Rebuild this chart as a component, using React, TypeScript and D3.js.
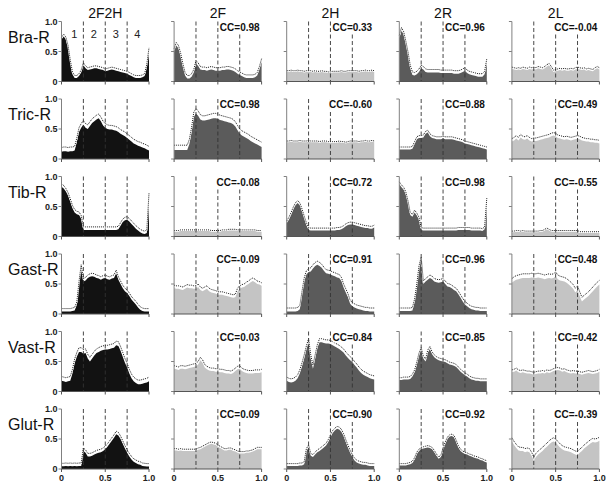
import React from "react";
import * as d3 from "d3";

const MUSCLES = ["Bra-R", "Tric-R", "Tib-R", "Gast-R", "Vast-R", "Glut-R"];
const CONDITIONS = ["2F2H", "2F", "2H", "2R", "2L"];
const X_TICKS = [0, 0.5, 1.0];
const X_TICK_LABELS = ["0", "0.5", "1.0"];
const Y_TICKS = [0, 0.5, 1.0];
const Y_TICK_LABELS = ["0", "0.5", "1.0"];
const PHASE_BOUNDS = [0.25, 0.5, 0.75];
const PHASE_LABELS = ["1", "2", "3", "4"];
const PHASE_LABEL_POS = [0.145, 0.37, 0.62, 0.865];

// Each series sampled at 41 evenly spaced points of the normalised cycle (0..1)
const braR_2F2H = [0.70, 0.75, 0.70, 0.56, 0.32, 0.12, 0.06, 0.06, 0.09, 0.15, 0.27, 0.22, 0.19, 0.20, 0.21, 0.22, 0.22, 0.21, 0.20, 0.19, 0.17, 0.18, 0.19, 0.20, 0.19, 0.18, 0.17, 0.16, 0.15, 0.14, 0.13, 0.11, 0.09, 0.07, 0.06, 0.06, 0.06, 0.07, 0.09, 0.25, 0.52];
const braR_2F = [0.50, 0.60, 0.55, 0.42, 0.25, 0.10, 0.05, 0.05, 0.08, 0.15, 0.30, 0.26, 0.20, 0.19, 0.19, 0.18, 0.19, 0.20, 0.19, 0.18, 0.18, 0.18, 0.19, 0.19, 0.20, 0.20, 0.19, 0.18, 0.16, 0.13, 0.11, 0.09, 0.07, 0.06, 0.06, 0.06, 0.06, 0.07, 0.10, 0.20, 0.33];
const braR_2H = [0.16, 0.16, 0.17, 0.16, 0.16, 0.17, 0.16, 0.16, 0.15, 0.16, 0.16, 0.16, 0.15, 0.16, 0.15, 0.15, 0.16, 0.15, 0.15, 0.14, 0.14, 0.15, 0.15, 0.15, 0.15, 0.16, 0.15, 0.15, 0.16, 0.16, 0.16, 0.16, 0.16, 0.15, 0.16, 0.16, 0.17, 0.16, 0.16, 0.17, 0.16];
const braR_2R = [0.72, 0.85, 0.78, 0.62, 0.44, 0.22, 0.11, 0.10, 0.12, 0.16, 0.22, 0.20, 0.16, 0.15, 0.15, 0.15, 0.15, 0.15, 0.15, 0.14, 0.14, 0.14, 0.14, 0.14, 0.14, 0.13, 0.13, 0.13, 0.14, 0.16, 0.18, 0.14, 0.12, 0.11, 0.10, 0.09, 0.08, 0.08, 0.08, 0.12, 0.33];
const braR_2L = [0.21, 0.20, 0.19, 0.20, 0.19, 0.21, 0.20, 0.19, 0.21, 0.20, 0.21, 0.20, 0.22, 0.21, 0.20, 0.22, 0.25, 0.27, 0.22, 0.16, 0.17, 0.18, 0.19, 0.18, 0.19, 0.18, 0.18, 0.19, 0.18, 0.20, 0.21, 0.20, 0.19, 0.20, 0.18, 0.19, 0.18, 0.17, 0.20, 0.22, 0.20];

const tricR_2F2H = [0.12, 0.13, 0.13, 0.12, 0.13, 0.13, 0.14, 0.28, 0.45, 0.52, 0.57, 0.52, 0.50, 0.55, 0.60, 0.63, 0.66, 0.68, 0.63, 0.56, 0.52, 0.50, 0.49, 0.49, 0.48, 0.47, 0.45, 0.42, 0.40, 0.38, 0.35, 0.32, 0.29, 0.26, 0.24, 0.22, 0.21, 0.19, 0.18, 0.16, 0.14];
const tricR_2F = [0.15, 0.15, 0.15, 0.15, 0.15, 0.15, 0.15, 0.25, 0.45, 0.70, 0.76, 0.72, 0.66, 0.64, 0.64, 0.65, 0.66, 0.67, 0.68, 0.68, 0.67, 0.65, 0.64, 0.63, 0.62, 0.61, 0.60, 0.58, 0.54, 0.48, 0.42, 0.39, 0.37, 0.35, 0.33, 0.30, 0.28, 0.26, 0.24, 0.22, 0.20];
const tricR_2H = [0.28, 0.28, 0.29, 0.28, 0.28, 0.28, 0.29, 0.28, 0.28, 0.28, 0.29, 0.28, 0.28, 0.28, 0.28, 0.27, 0.28, 0.28, 0.28, 0.27, 0.27, 0.27, 0.27, 0.27, 0.28, 0.27, 0.27, 0.26, 0.27, 0.28, 0.28, 0.28, 0.28, 0.27, 0.28, 0.28, 0.29, 0.28, 0.28, 0.29, 0.28];
const tricR_2R = [0.16, 0.16, 0.16, 0.16, 0.16, 0.16, 0.17, 0.25, 0.33, 0.35, 0.35, 0.36, 0.42, 0.44, 0.38, 0.35, 0.34, 0.33, 0.33, 0.33, 0.34, 0.33, 0.33, 0.33, 0.33, 0.32, 0.31, 0.30, 0.29, 0.28, 0.26, 0.25, 0.24, 0.23, 0.22, 0.21, 0.20, 0.19, 0.18, 0.17, 0.16];
const tricR_2L = [0.29, 0.31, 0.34, 0.31, 0.36, 0.33, 0.32, 0.34, 0.31, 0.29, 0.30, 0.30, 0.31, 0.32, 0.33, 0.34, 0.35, 0.36, 0.38, 0.39, 0.38, 0.35, 0.34, 0.33, 0.32, 0.33, 0.32, 0.31, 0.32, 0.33, 0.34, 0.33, 0.31, 0.30, 0.29, 0.29, 0.28, 0.28, 0.27, 0.27, 0.26];

const tibR_2F2H = [0.83, 0.80, 0.75, 0.68, 0.58, 0.47, 0.40, 0.37, 0.36, 0.30, 0.11, 0.11, 0.11, 0.11, 0.11, 0.11, 0.11, 0.11, 0.11, 0.11, 0.11, 0.11, 0.11, 0.11, 0.11, 0.11, 0.12, 0.18, 0.24, 0.27, 0.28, 0.25, 0.21, 0.17, 0.13, 0.10, 0.07, 0.05, 0.04, 0.06, 0.67];
const tibR_2F = [0.08, 0.08, 0.08, 0.09, 0.09, 0.09, 0.09, 0.09, 0.09, 0.09, 0.09, 0.09, 0.09, 0.09, 0.09, 0.09, 0.09, 0.08, 0.08, 0.08, 0.08, 0.08, 0.09, 0.09, 0.09, 0.10, 0.10, 0.10, 0.10, 0.09, 0.09, 0.09, 0.09, 0.09, 0.09, 0.09, 0.09, 0.09, 0.08, 0.08, 0.08];
const tibR_2H = [0.22, 0.28, 0.36, 0.45, 0.52, 0.56, 0.52, 0.42, 0.30, 0.19, 0.11, 0.10, 0.10, 0.10, 0.10, 0.10, 0.10, 0.10, 0.10, 0.10, 0.10, 0.10, 0.10, 0.11, 0.11, 0.12, 0.14, 0.17, 0.19, 0.20, 0.20, 0.19, 0.18, 0.17, 0.16, 0.15, 0.14, 0.14, 0.13, 0.13, 0.15];
const tibR_2R = [0.87, 0.82, 0.78, 0.70, 0.55, 0.36, 0.33, 0.40, 0.35, 0.28, 0.11, 0.10, 0.10, 0.10, 0.10, 0.10, 0.10, 0.10, 0.10, 0.10, 0.10, 0.10, 0.10, 0.10, 0.10, 0.10, 0.10, 0.11, 0.11, 0.11, 0.11, 0.11, 0.11, 0.10, 0.10, 0.10, 0.10, 0.10, 0.09, 0.12, 0.60];
const tibR_2L = [0.07, 0.07, 0.08, 0.08, 0.07, 0.08, 0.07, 0.07, 0.07, 0.07, 0.07, 0.07, 0.07, 0.08, 0.08, 0.10, 0.12, 0.10, 0.08, 0.08, 0.08, 0.08, 0.08, 0.08, 0.08, 0.08, 0.08, 0.08, 0.08, 0.08, 0.08, 0.06, 0.06, 0.06, 0.06, 0.06, 0.06, 0.06, 0.06, 0.06, 0.06];

const gastR_2F2H = [0.04, 0.04, 0.04, 0.04, 0.04, 0.05, 0.06, 0.15, 0.49, 0.77, 0.54, 0.56, 0.60, 0.62, 0.63, 0.62, 0.60, 0.59, 0.57, 0.59, 0.60, 0.58, 0.57, 0.59, 0.60, 0.68, 0.57, 0.50, 0.43, 0.38, 0.35, 0.30, 0.24, 0.20, 0.16, 0.11, 0.07, 0.05, 0.04, 0.04, 0.04];
const gastR_2F = [0.43, 0.42, 0.42, 0.41, 0.40, 0.42, 0.44, 0.43, 0.43, 0.42, 0.42, 0.45, 0.40, 0.38, 0.40, 0.42, 0.38, 0.36, 0.35, 0.34, 0.32, 0.32, 0.32, 0.31, 0.30, 0.29, 0.28, 0.27, 0.28, 0.38, 0.42, 0.44, 0.45, 0.48, 0.50, 0.53, 0.55, 0.53, 0.50, 0.49, 0.47];
const gastR_2H = [0.04, 0.04, 0.04, 0.04, 0.04, 0.05, 0.08, 0.32, 0.54, 0.66, 0.70, 0.71, 0.76, 0.80, 0.82, 0.80, 0.77, 0.72, 0.68, 0.67, 0.66, 0.64, 0.63, 0.61, 0.60, 0.55, 0.44, 0.36, 0.28, 0.17, 0.13, 0.11, 0.09, 0.08, 0.07, 0.06, 0.05, 0.05, 0.04, 0.04, 0.04];
const gastR_2R = [0.05, 0.05, 0.05, 0.05, 0.05, 0.05, 0.06, 0.20, 0.45, 0.75, 0.90, 0.50, 0.54, 0.57, 0.60, 0.58, 0.54, 0.53, 0.52, 0.53, 0.54, 0.50, 0.46, 0.45, 0.43, 0.40, 0.38, 0.33, 0.27, 0.21, 0.16, 0.13, 0.10, 0.08, 0.07, 0.06, 0.06, 0.05, 0.05, 0.05, 0.05];
const gastR_2L = [0.52, 0.55, 0.57, 0.58, 0.59, 0.60, 0.60, 0.60, 0.60, 0.61, 0.60, 0.60, 0.61, 0.60, 0.59, 0.58, 0.59, 0.60, 0.59, 0.60, 0.63, 0.58, 0.56, 0.55, 0.54, 0.52, 0.49, 0.46, 0.42, 0.36, 0.40, 0.30, 0.21, 0.24, 0.27, 0.30, 0.34, 0.38, 0.42, 0.46, 0.49];

const vastR_2F2H = [0.18, 0.17, 0.16, 0.17, 0.18, 0.30, 0.47, 0.58, 0.66, 0.66, 0.63, 0.64, 0.55, 0.50, 0.55, 0.60, 0.64, 0.66, 0.68, 0.69, 0.70, 0.70, 0.71, 0.72, 0.73, 0.77, 0.76, 0.68, 0.58, 0.48, 0.40, 0.30, 0.22, 0.17, 0.14, 0.12, 0.12, 0.13, 0.14, 0.15, 0.17];
const vastR_2F = [0.38, 0.37, 0.36, 0.38, 0.38, 0.37, 0.38, 0.39, 0.40, 0.41, 0.42, 0.45, 0.52, 0.48, 0.40, 0.37, 0.35, 0.34, 0.34, 0.33, 0.33, 0.32, 0.32, 0.31, 0.30, 0.30, 0.29, 0.31, 0.34, 0.37, 0.38, 0.34, 0.32, 0.31, 0.30, 0.30, 0.30, 0.31, 0.31, 0.31, 0.32];
const vastR_2H = [0.18, 0.16, 0.15, 0.16, 0.18, 0.22, 0.30, 0.42, 0.55, 0.70, 0.82, 0.55, 0.38, 0.55, 0.72, 0.82, 0.82, 0.81, 0.80, 0.80, 0.79, 0.77, 0.75, 0.73, 0.71, 0.68, 0.65, 0.60, 0.56, 0.52, 0.49, 0.44, 0.40, 0.35, 0.31, 0.28, 0.26, 0.24, 0.22, 0.21, 0.20];
const vastR_2R = [0.19, 0.19, 0.20, 0.20, 0.20, 0.21, 0.25, 0.32, 0.45, 0.60, 0.69, 0.55, 0.50, 0.65, 0.71, 0.62, 0.57, 0.54, 0.52, 0.51, 0.50, 0.49, 0.47, 0.45, 0.44, 0.43, 0.41, 0.37, 0.33, 0.30, 0.27, 0.25, 0.22, 0.20, 0.19, 0.18, 0.18, 0.17, 0.17, 0.17, 0.17];
const vastR_2L = [0.32, 0.33, 0.35, 0.32, 0.31, 0.32, 0.31, 0.30, 0.30, 0.29, 0.28, 0.29, 0.30, 0.30, 0.31, 0.30, 0.32, 0.31, 0.32, 0.34, 0.35, 0.36, 0.35, 0.33, 0.34, 0.32, 0.31, 0.30, 0.31, 0.30, 0.30, 0.29, 0.28, 0.29, 0.30, 0.31, 0.30, 0.29, 0.30, 0.31, 0.33];

const glutR_2F2H = [0.045, 0.045, 0.05, 0.045, 0.05, 0.045, 0.05, 0.045, 0.05, 0.05, 0.30, 0.27, 0.21, 0.21, 0.22, 0.24, 0.26, 0.27, 0.28, 0.30, 0.33, 0.37, 0.42, 0.47, 0.52, 0.58, 0.56, 0.50, 0.42, 0.34, 0.27, 0.21, 0.16, 0.12, 0.10, 0.08, 0.07, 0.05, 0.045, 0.04, 0.04];
const glutR_2F = [0.31, 0.31, 0.30, 0.31, 0.30, 0.30, 0.30, 0.30, 0.30, 0.30, 0.30, 0.32, 0.33, 0.35, 0.37, 0.39, 0.41, 0.42, 0.41, 0.40, 0.37, 0.35, 0.33, 0.31, 0.31, 0.32, 0.32, 0.30, 0.29, 0.27, 0.26, 0.26, 0.26, 0.27, 0.27, 0.28, 0.29, 0.31, 0.33, 0.33, 0.33];
const glutR_2H = [0.05, 0.05, 0.05, 0.05, 0.05, 0.05, 0.06, 0.06, 0.08, 0.30, 0.36, 0.22, 0.20, 0.24, 0.28, 0.30, 0.33, 0.36, 0.39, 0.45, 0.53, 0.60, 0.64, 0.67, 0.66, 0.62, 0.55, 0.45, 0.36, 0.27, 0.20, 0.14, 0.11, 0.09, 0.08, 0.07, 0.07, 0.06, 0.05, 0.05, 0.05];
const glutR_2R = [0.06, 0.06, 0.06, 0.06, 0.07, 0.08, 0.10, 0.16, 0.25, 0.30, 0.33, 0.34, 0.35, 0.36, 0.35, 0.33, 0.28, 0.22, 0.17, 0.20, 0.32, 0.42, 0.50, 0.54, 0.55, 0.53, 0.45, 0.36, 0.30, 0.27, 0.25, 0.24, 0.22, 0.21, 0.19, 0.18, 0.17, 0.15, 0.14, 0.12, 0.11];
const glutR_2L = [0.46, 0.40, 0.35, 0.31, 0.30, 0.30, 0.28, 0.29, 0.28, 0.22, 0.14, 0.20, 0.24, 0.27, 0.30, 0.34, 0.37, 0.41, 0.44, 0.46, 0.44, 0.40, 0.36, 0.33, 0.31, 0.30, 0.29, 0.28, 0.26, 0.24, 0.23, 0.27, 0.30, 0.34, 0.37, 0.40, 0.43, 0.45, 0.44, 0.45, 0.47];

// standard deviation offset (upper dotted line) per panel
const SD_BRA = [0.04, 0.05, 0.02, 0.05, 0.03];
const SD_TRIC = [0.07, 0.08, 0.02, 0.04, 0.05];
const SD_TIB = [0.05, 0.02, 0.04, 0.04, 0.02];
const SD_GAST = [0.05, 0.05, 0.06, 0.05, 0.07];
const SD_VAST = [0.07, 0.05, 0.06, 0.04, 0.04];
const SD_GLUT = [0.05, 0.03, 0.04, 0.03, 0.06];

// correlation coefficients vs 2F2H
const CC_BRA = [null, 0.98, 0.33, 0.96, -0.04];
const CC_TRIC = [null, 0.98, -0.6, 0.88, 0.49];
const CC_TIB = [null, -0.08, 0.72, 0.98, -0.55];
const CC_GAST = [null, -0.09, 0.91, 0.96, 0.48];
const CC_VAST = [null, 0.03, 0.84, 0.85, 0.42];
const CC_GLUT = [null, 0.09, 0.9, 0.92, -0.39];

const SERIES = [
  [braR_2F2H, braR_2F, braR_2H, braR_2R, braR_2L],
  [tricR_2F2H, tricR_2F, tricR_2H, tricR_2R, tricR_2L],
  [tibR_2F2H, tibR_2F, tibR_2H, tibR_2R, tibR_2L],
  [gastR_2F2H, gastR_2F, gastR_2H, gastR_2R, gastR_2L],
  [vastR_2F2H, vastR_2F, vastR_2H, vastR_2R, vastR_2L],
  [glutR_2F2H, glutR_2F, glutR_2H, glutR_2R, glutR_2L],
];
const SD = [SD_BRA, SD_TRIC, SD_TIB, SD_GAST, SD_VAST, SD_GLUT];
const CC = [CC_BRA, CC_TRIC, CC_TIB, CC_GAST, CC_VAST, CC_GLUT];

const FONT = "'Liberation Sans', Arial, Helvetica, sans-serif";
const W = 612;
const H = 485;
const COL_X0 = 61.5;
const COL_STEP = 112.6;
const PANEL_W = 87.5;
const ROW_BOTTOM0 = 81.5;
const ROW_STEP = 77.5;
const PANEL_H = 60;
const CC_FONT = 10;

const BOLD_W: Record<string, number> = { C: 0.722, "=": 0.584, "-": 0.333, ".": 0.278 };
function boldTextWidth(s: string, size: number) {
  let w = 0;
  for (const ch of s) w += BOLD_W[ch] ?? 0.556;
  return w * size;
}

function fillFor(c: number, cc: number | null) {
  if (c === 0) return "#121212";
  return cc !== null && cc >= 0.5 ? "#5b5b5b" : "#c4c4c4";
}

function Panel({ r, c }: { r: number; c: number }) {
  const vals = SERIES[r][c];
  const n = vals.length;
  const x0 = COL_X0 + c * COL_STEP;
  const bottom = ROW_BOTTOM0 + r * ROW_STEP;
  const x = d3.scaleLinear().domain([0, 1]).range([x0, x0 + PANEL_W]);
  const y = d3.scaleLinear().domain([0, 1]).range([bottom, bottom - PANEL_H]);
  const t = (i: number) => i / (n - 1);
  const area = d3
    .area<number>()
    .x((_, i) => x(t(i)))
    .y0(y(0))
    .y1((d) => y(d));
  const sd = SD[r][c];
  const line = d3
    .line<number>()
    .x((_, i) => x(t(i)))
    .y((d) => y(d + sd));
  const cc = CC[r][c];
  const ccText = cc !== null ? "CC=" + cc.toFixed(2) : "";
  const ccW = boldTextWidth(ccText, CC_FONT);
  const isLastRow = r === MUSCLES.length - 1;
  return (
    <g>
      <path d={area(vals) || ""} fill={fillFor(c, cc)} stroke="none" />
      <path d={line(vals) || ""} fill="none" stroke="#ffffff" strokeWidth={1.6} />
      <path d={line(vals) || ""} fill="none" stroke="#000" strokeWidth={0.9} strokeDasharray="1,1" />
      {PHASE_BOUNDS.map((b) => (
        <line
          key={b}
          x1={x(b)}
          x2={x(b)}
          y1={y(1)}
          y2={y(0)}
          stroke="#333"
          strokeWidth={0.9}
          strokeDasharray="4,2.5"
        />
      ))}
      {/* y axis */}
      <line x1={x(0)} x2={x(0)} y1={y(0)} y2={y(1)} stroke="#808080" strokeWidth={1} />
      {Y_TICKS.map((v) => (
        <line key={v} x1={x(0) - 3} x2={x(0)} y1={y(v)} y2={y(v)} stroke="#808080" strokeWidth={1} />
      ))}
      {c === 0 &&
        Y_TICKS.map((v, i) => (
          <text
            key={v}
            x={x(0) - 4}
            y={y(v) + 3.2}
            textAnchor="end"
            fontSize={9}
            fontWeight="bold"
            fontFamily={FONT}
            fill="#222"
          >
            {Y_TICK_LABELS[i]}
          </text>
        ))}
      {/* x axis */}
      <line x1={x(0)} x2={x(1)} y1={y(0)} y2={y(0)} stroke="#555" strokeWidth={1} />
      {X_TICKS.map((v) => (
        <line key={v} x1={x(v)} x2={x(v)} y1={y(0)} y2={y(0) + 3} stroke="#555" strokeWidth={1} />
      ))}
      {isLastRow &&
        X_TICKS.map((v, i) => (
          <text
            key={v}
            x={x(v)}
            y={y(0) + 12}
            textAnchor="middle"
            fontSize={9}
            fontWeight="bold"
            fontFamily={FONT}
            fill="#222"
          >
            {X_TICK_LABELS[i]}
          </text>
        ))}
      {cc !== null && (
        <g>
          <rect
            x={x(1) - 2 - ccW + 0.5}
            y={y(1) - 1}
            width={ccW}
            height={12}
            fill="#fff"
          />
          <text
            x={x(1) - 2}
            y={y(1) + 9}
            textAnchor="end"
            fontSize={CC_FONT}
            fontWeight="bold"
            fontFamily={FONT}
            fill="#111"
          >
            {ccText}
          </text>
        </g>
      )}
      {r === 0 && c === 0 &&
        PHASE_LABELS.map((lab, i) => (
          <text
            key={lab}
            x={x(PHASE_LABEL_POS[i])}
            y={y(0.73)}
            textAnchor="middle"
            fontSize={11}
            fontFamily={FONT}
            fill="#222"
          >
            {lab}
          </text>
        ))}
    </g>
  );
}

export default function App() {
  return (
    <svg
      width={W}
      height={H}
      viewBox={`0 0 ${W} ${H}`}
      style={{ position: "absolute", left: 0, top: 0, background: "#fff" }}
    >
      <rect x={0} y={0} width={W} height={H} fill="#fff" />
      {CONDITIONS.map((cond, c) => (
        <text
          key={cond}
          x={COL_X0 + c * COL_STEP + PANEL_W / 2}
          y={18}
          textAnchor="middle"
          fontSize={14}
          fontFamily={FONT}
          fill="#111"
        >
          {cond}
        </text>
      ))}
      {MUSCLES.map((m, r) => (
        <text
          key={m}
          x={8}
          y={ROW_BOTTOM0 + r * ROW_STEP - PANEL_H + 21}
          fontSize={16}
          fontFamily={FONT}
          fill="#111"
        >
          {m}
        </text>
      ))}
      {MUSCLES.map((_, r) =>
        CONDITIONS.map((__, c) => <Panel key={`${r}-${c}`} r={r} c={c} />)
      )}
    </svg>
  );
}
